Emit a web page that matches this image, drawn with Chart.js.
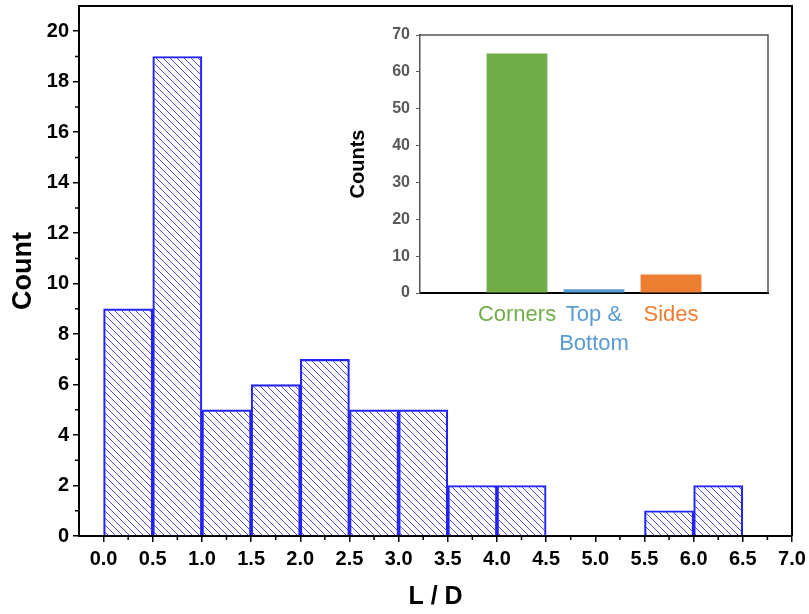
<!DOCTYPE html>
<html lang="en">
<head>
  <meta charset="UTF-8">
  <title>L / D histogram</title>
  <style>
    body { margin: 0; background: #fff; }
    #wrap { position: relative; width: 809px; height: 614px; }
    #mainChart { position: absolute; left: 0; top: 0; }
    #insetChart { position: absolute; left: 340px; top: 20px; }
  </style>
</head>
<body>
<div id="wrap">
  <canvas id="mainChart" width="809" height="614"></canvas>
  <canvas id="insetChart" width="440" height="340"></canvas>
</div>

<script src="https://cdn.jsdelivr.net/npm/chart.js"></script>
<script>
  // histogram: bin centres (width 0.5) and counts
  const binCenters = [0.25, 0.75, 1.25, 1.75, 2.25, 2.75, 3.25, 3.75, 4.25, 4.75, 5.25, 5.75, 6.25];
  const binCounts  = [9, 19, 5, 6, 7, 5, 5, 2, 2, 0, 0, 1, 2];
  const xTickValues = [0, 0.5, 1, 1.5, 2, 2.5, 3, 3.5, 4, 4.5, 5, 5.5, 6, 6.5, 7];
  const yTickValues = [0, 2, 4, 6, 8, 10, 12, 14, 16, 18, 20];

  // inset
  const insetCategories = ['Corners', ['Top &', 'Bottom'], 'Sides'];
  const insetPositions = [1, 2, 3];
  const insetCounts = [65, 1, 5];
  const insetColors = ['#70ad47', '#5b9bd5', '#ed7d31'];

  const arialFont = '"Liberation Sans", Arial, sans-serif';

  // diagonal hatch
  function hatch() {
    const c = document.createElement('canvas');
    c.width = 7; c.height = 7;
    const g = c.getContext('2d');
    g.strokeStyle = '#4b4bf0';
    g.lineWidth = 1;
    g.beginPath();
    g.moveTo(-1, -1); g.lineTo(8, 8);
    g.moveTo(-1, 6); g.lineTo(1, 8);
    g.moveTo(6, -1); g.lineTo(8, 1);
    g.stroke();
    return g.createPattern(c, 'repeat');
  }

  // top/right frame lines + minor ticks
  const framePlugin = {
    id: 'frame',
    afterDraw(chart, args, opts) {
      const ctx = chart.ctx;
      const a = chart.chartArea;
      ctx.save();
      ctx.strokeStyle = opts.color;
      ctx.lineWidth = opts.width;
      ctx.beginPath();
      ctx.moveTo(a.left, a.top);
      ctx.lineTo(a.right, a.top);
      ctx.lineTo(a.right, a.bottom);
      ctx.stroke();
      if (opts.minor) {
        ctx.strokeStyle = '#000';
        ctx.lineWidth = 1.5;
        const xs = chart.scales.x, ys = chart.scales.y;
        ctx.beginPath();
        for (let i = 0; i < xTickValues.length - 1; i++) {
          const px = xs.getPixelForValue((xTickValues[i] + xTickValues[i + 1]) / 2);
          ctx.moveTo(px, a.bottom); ctx.lineTo(px, a.bottom + 4);
        }
        for (let i = 0; i < yTickValues.length - 1; i++) {
          const py = ys.getPixelForValue((yTickValues[i] + yTickValues[i + 1]) / 2);
          ctx.moveTo(a.left, py); ctx.lineTo(a.left - 4, py);
        }
        ctx.stroke();
      }
      ctx.restore();
    }
  };

  new Chart(document.getElementById('mainChart'), {
    type: 'bar',
    data: {
      datasets: [{
        data: binCenters.map((x, i) => ({ x: x, y: binCounts[i] })),
        backgroundColor: hatch(),
        borderColor: '#2222ff',
        borderWidth: 1.5,
        barPercentage: 1,
        categoryPercentage: 1
      }]
    },
    plugins: [framePlugin],
    options: {
      responsive: false,
      animation: false,
      layout: { padding: { top: 6, right: 17, left: 0, bottom: 0 } },
      plugins: {
        legend: { display: false },
        tooltip: { enabled: false },
        frame: { color: '#000', width: 2, minor: true }
      },
      scales: {
        x: {
          type: 'linear',
          offset: false,
          min: -0.25,
          max: 7,
          afterBuildTicks: s => { s.ticks = xTickValues.map(v => ({ value: v })); },
          afterFit: s => { s.height = 78; s.paddingLeft = 0; s.paddingRight = 0; },
          ticks: {
            autoSkip: false, maxRotation: 0, minRotation: 0, padding: 5, color: '#000',
            font: { family: arialFont, size: 20, weight: 'bold' },
            callback: v => Number(v).toFixed(1)
          },
          grid: { offset: false, drawOnChartArea: false, tickLength: 6, color: '#000', lineWidth: 1.5 },
          border: { color: '#000', width: 2 },
          title: {
            display: true, text: 'L / D', color: '#000',
            font: { family: arialFont, size: 25, weight: 'bold' },
            padding: { top: 0, bottom: 2 }
          }
        },
        y: {
          min: 0,
          max: 21,
          afterBuildTicks: s => { s.ticks = yTickValues.map(v => ({ value: v })); },
          afterFit: s => { s.width = 79; s.paddingTop = 0; s.paddingBottom = 0; },
          ticks: { padding: 4, color: '#000', font: { family: arialFont, size: 20, weight: 'bold' } },
          grid: { drawOnChartArea: false, tickLength: 6, color: '#000', lineWidth: 1.5 },
          border: { color: '#000', width: 2 },
          title: {
            display: true, text: 'Count', color: '#000',
            font: { family: arialFont, size: 27, weight: 'bold' },
            padding: { top: 7, bottom: 0 }
          }
        }
      }
    }
  });

  new Chart(document.getElementById('insetChart'), {
    type: 'bar',
    data: {
      datasets: [{
        data: insetPositions.map((x, i) => ({ x: x, y: insetCounts[i] })),
        backgroundColor: insetColors,
        borderWidth: 0,
        barPercentage: 0.79,
        categoryPercentage: 1
      }]
    },
    plugins: [framePlugin],
    options: {
      responsive: false,
      animation: false,
      layout: { padding: { top: 15, right: 12, left: 0, bottom: 0 } },
      plugins: {
        legend: { display: false },
        tooltip: { enabled: false },
        frame: { color: '#555', width: 1.5, minor: false }
      },
      scales: {
        x: {
          type: 'linear',
          offset: false,
          min: -0.26,
          max: 4.26,
          afterBuildTicks: s => { s.ticks = insetPositions.map(v => ({ value: v })); },
          afterFit: s => { s.height = 67; s.paddingLeft = 0; s.paddingRight = 0; },
          ticks: {
            autoSkip: false, maxRotation: 0, minRotation: 0, padding: 0,
            color: ctx => insetColors[ctx.index],
            font: { family: arialFont, size: 22, lineHeight: 1.3 },
            callback: (v, i) => insetCategories[i]
          },
          grid: { display: false },
          border: { color: '#000', width: 2 }
        },
        y: {
          min: 0,
          max: 70,
          ticks: { stepSize: 10, padding: 6, color: '#595959', font: { family: arialFont, size: 16, weight: 'bold' } },
          afterFit: s => { s.width = 80; s.paddingTop = 0; s.paddingBottom = 0; },
          grid: { drawOnChartArea: false, tickLength: 4, color: '#595959', lineWidth: 1 },
          border: { color: '#555', width: 1.5 },
          title: {
            display: true, text: 'Counts', color: '#000',
            font: { family: arialFont, size: 20, weight: 'bold' },
            padding: { top: 6, bottom: 0 }
          }
        }
      }
    }
  });
</script>
</body>
</html>
